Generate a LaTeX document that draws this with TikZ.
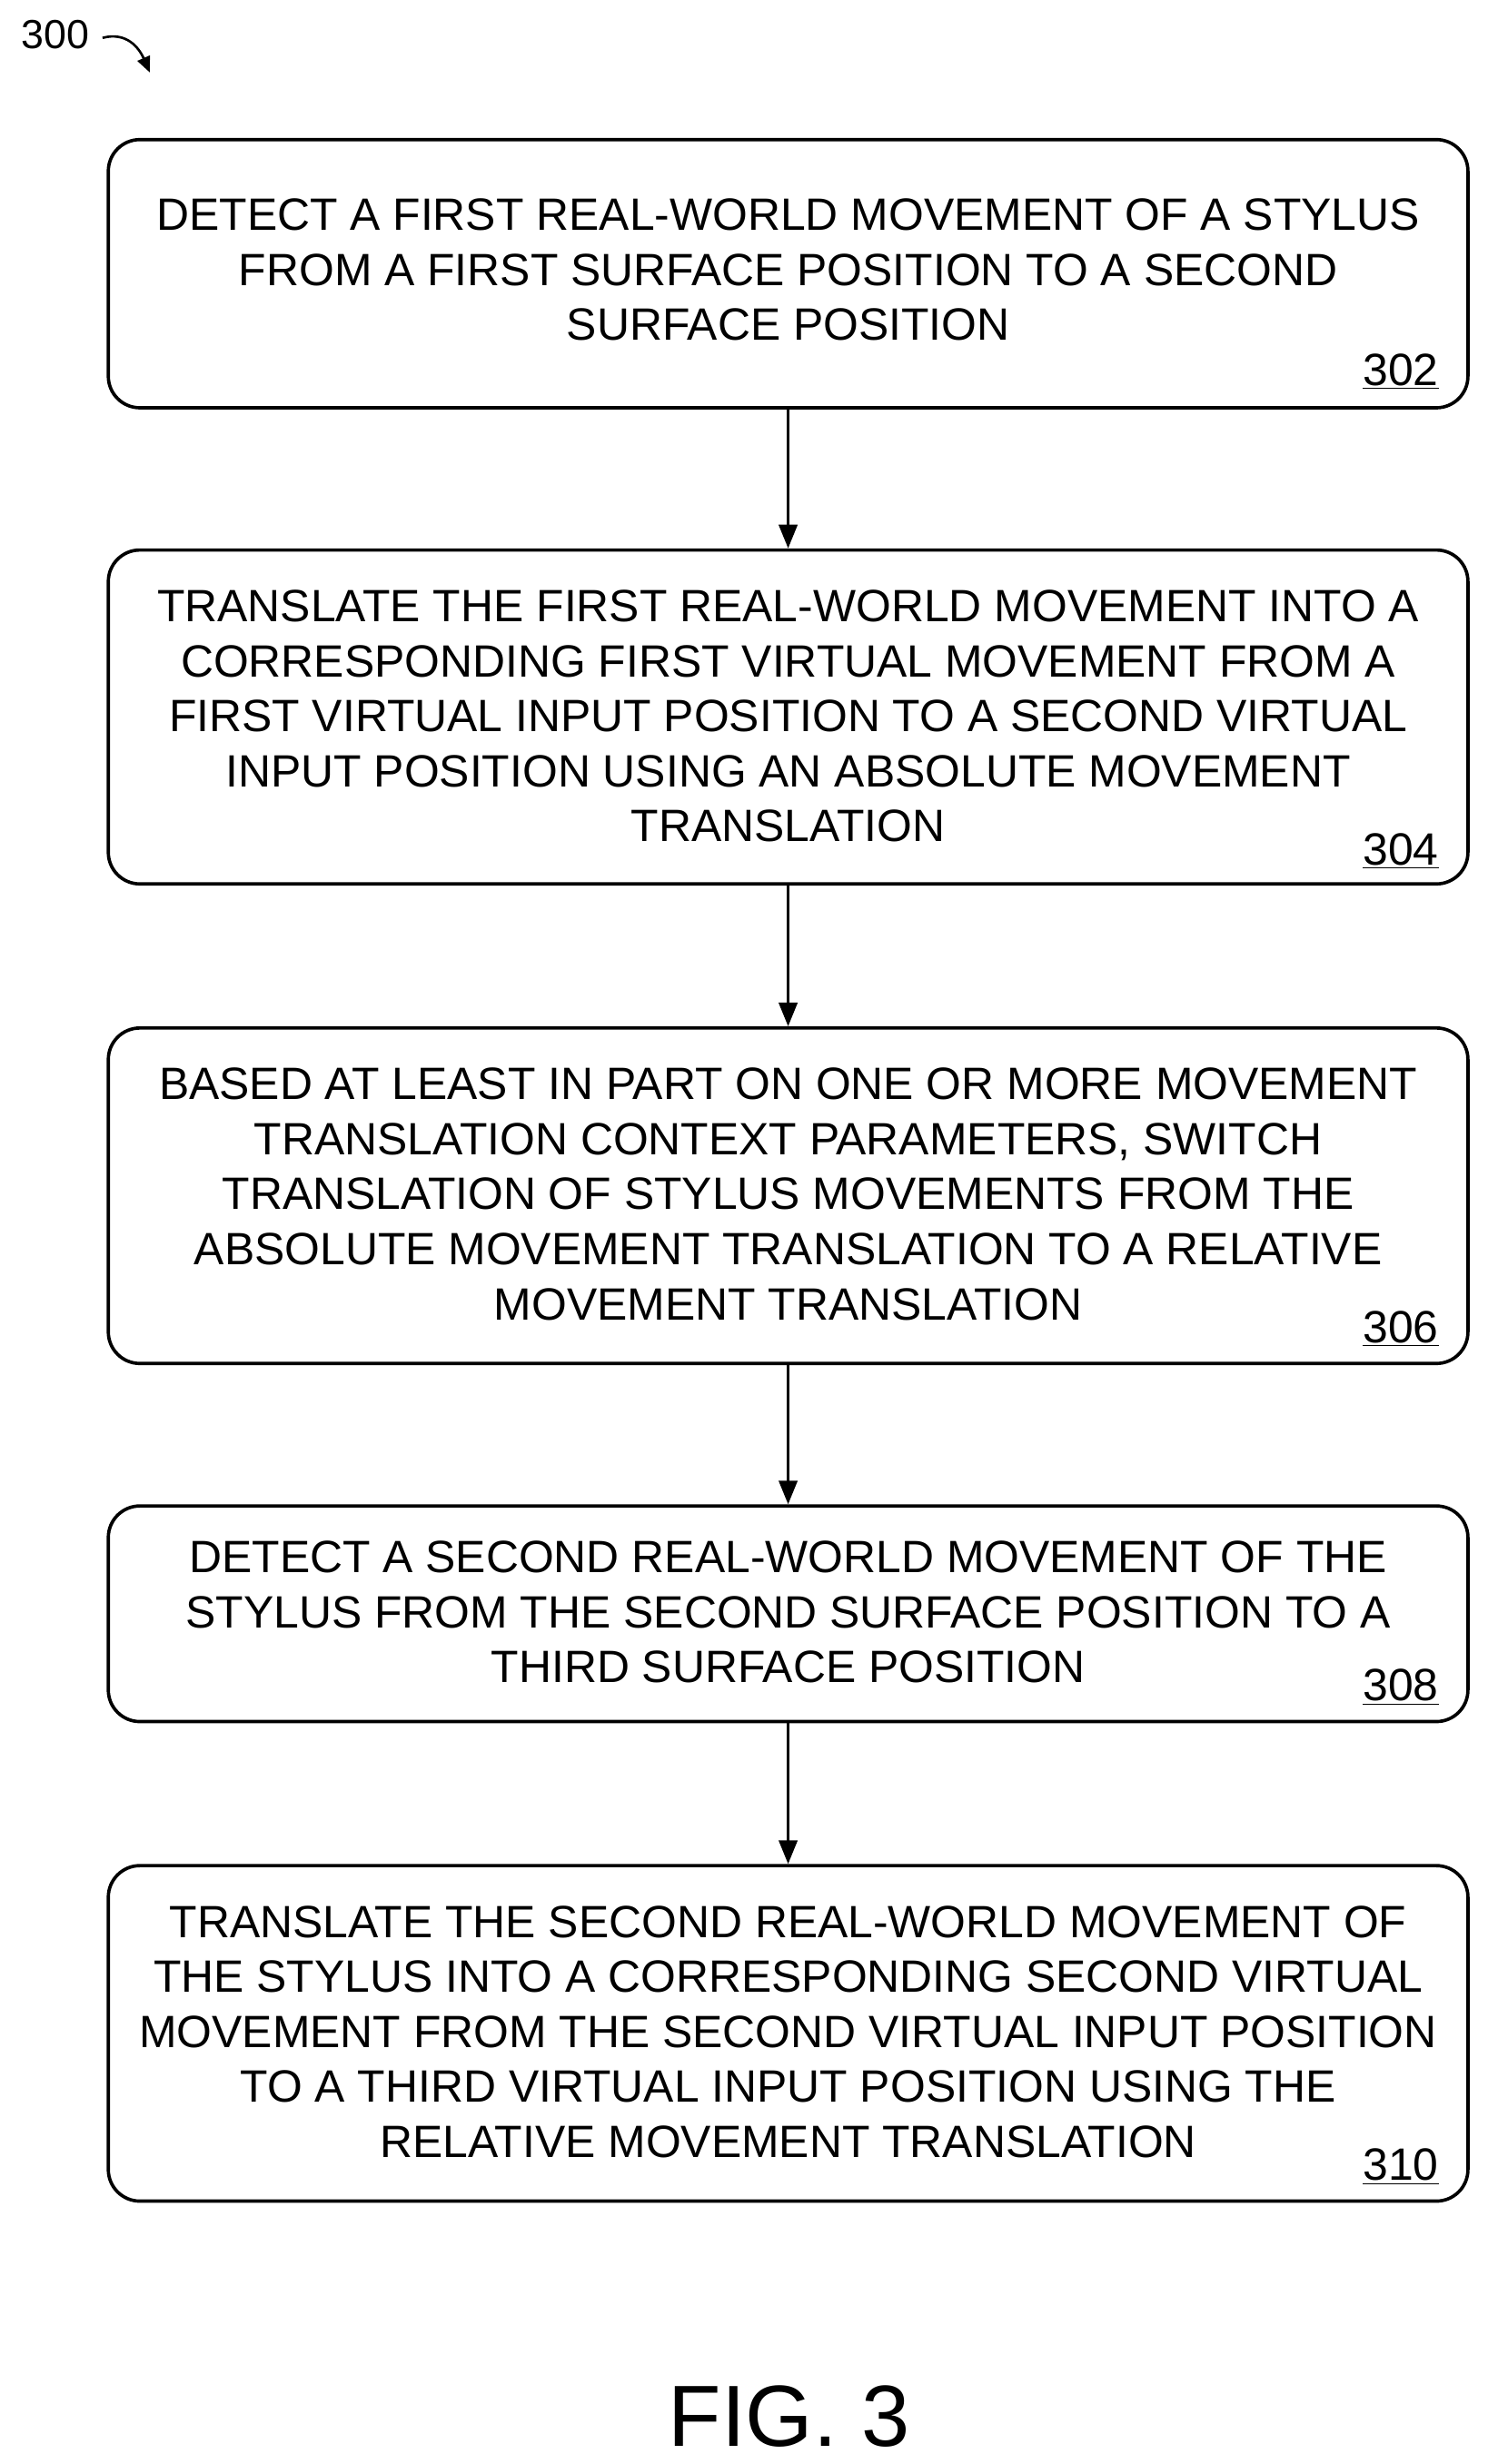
\documentclass[tikz,border=0pt]{standalone}
\usepackage{fontspec}
\setmainfont{Liberation Sans}
\usetikzlibrary{positioning,arrows.meta}
\tikzset{
  stepbox/.style={draw, line width=1.8pt, rounded corners=0.6cm, minimum width=25.85cm, align=center, inner sep=0pt},
  steplabel/.style={anchor=south east, inner sep=0pt},
  flow/.style={-{Triangle[length=0.45cm,width=0.35cm]}, line width=1.6pt}
}
\newcommand{\boxfont}{\fontsize{24.5}{29.8}\selectfont}
\begin{document}
\begin{tikzpicture}[x=0.03cm,y=-0.03cm]
    \useasboundingbox (0,0) rectangle (943,1562);

    % Rahmen der Schritte
    \node[stepbox, minimum height=5.1cm] (s302) at (499.5,173.5) {};
    \node[stepbox, minimum height=6.35cm] (s304) at (499.5,454.5) {};
    \node[stepbox, minimum height=6.38cm] (s306) at (499.5,758) {};
    \node[stepbox, minimum height=4.1cm] (s308) at (499.5,1023) {};
    \node[stepbox, minimum height=6.38cm] (s310) at (499.5,1289) {};

    % Texte
    \node[align=center, font=\boxfont] (t302) at (499.5,171) {DETECT A FIRST REAL-WORLD MOVEMENT OF A STYLUS\\FROM A FIRST SURFACE POSITION TO A SECOND\\SURFACE POSITION};
    \node[align=center, font=\boxfont] (t304) at (499.5,454) {TRANSLATE THE FIRST REAL-WORLD MOVEMENT INTO A\\CORRESPONDING FIRST VIRTUAL MOVEMENT FROM A\\FIRST VIRTUAL INPUT POSITION TO A SECOND VIRTUAL\\INPUT POSITION USING AN ABSOLUTE MOVEMENT\\TRANSLATION};
    \node[align=center, font=\boxfont] (t306) at (499.5,757) {BASED AT LEAST IN PART ON ONE OR MORE MOVEMENT\\TRANSLATION CONTEXT PARAMETERS, SWITCH\\TRANSLATION OF STYLUS MOVEMENTS FROM THE\\ABSOLUTE MOVEMENT TRANSLATION TO A RELATIVE\\MOVEMENT TRANSLATION};
    \node[align=center, font=\boxfont] (t308) at (499.5,1022) {DETECT A SECOND REAL-WORLD MOVEMENT OF THE\\STYLUS FROM THE SECOND SURFACE POSITION TO A\\THIRD SURFACE POSITION};
    \node[align=center, font=\boxfont] (t310) at (499.5,1288) {TRANSLATE THE SECOND REAL-WORLD MOVEMENT OF\\THE STYLUS INTO A CORRESPONDING SECOND VIRTUAL\\MOVEMENT FROM THE SECOND VIRTUAL INPUT POSITION\\TO A THIRD VIRTUAL INPUT POSITION USING THE\\RELATIVE MOVEMENT TRANSLATION};

    % Nummern
    \node[steplabel, font=\boxfont] (n302) at (912,247) {\underline{302}};
    \node[steplabel, font=\boxfont] (n304) at (912,551) {\underline{304}};
    \node[steplabel, font=\boxfont] (n306) at (912,854) {\underline{306}};
    \node[steplabel, font=\boxfont] (n308) at (912,1081) {\underline{308}};
    \node[steplabel, font=\boxfont] (n310) at (912,1385) {\underline{310}};

    % Pfeile
    \draw[flow] (s302) -- (s304);
    \draw[flow] (s304) -- (s306);
    \draw[flow] (s306) -- (s308);
    \draw[flow] (s308) -- (s310);

    % Figur
    \node[font=\fontsize{22}{24}\selectfont] (fig) at (35,22) {300};
    \coordinate (figend) at (95,46);
    \draw[-{Triangle[length=0.3cm,width=0.25cm]}, line width=1.3pt] (65,24) .. controls (80,20) and (88,30) .. (figend);
    \node[font=\fontsize{47}{50}\selectfont] (caption) at (500,1532) {FIG. 3};
\end{tikzpicture}
\end{document}
